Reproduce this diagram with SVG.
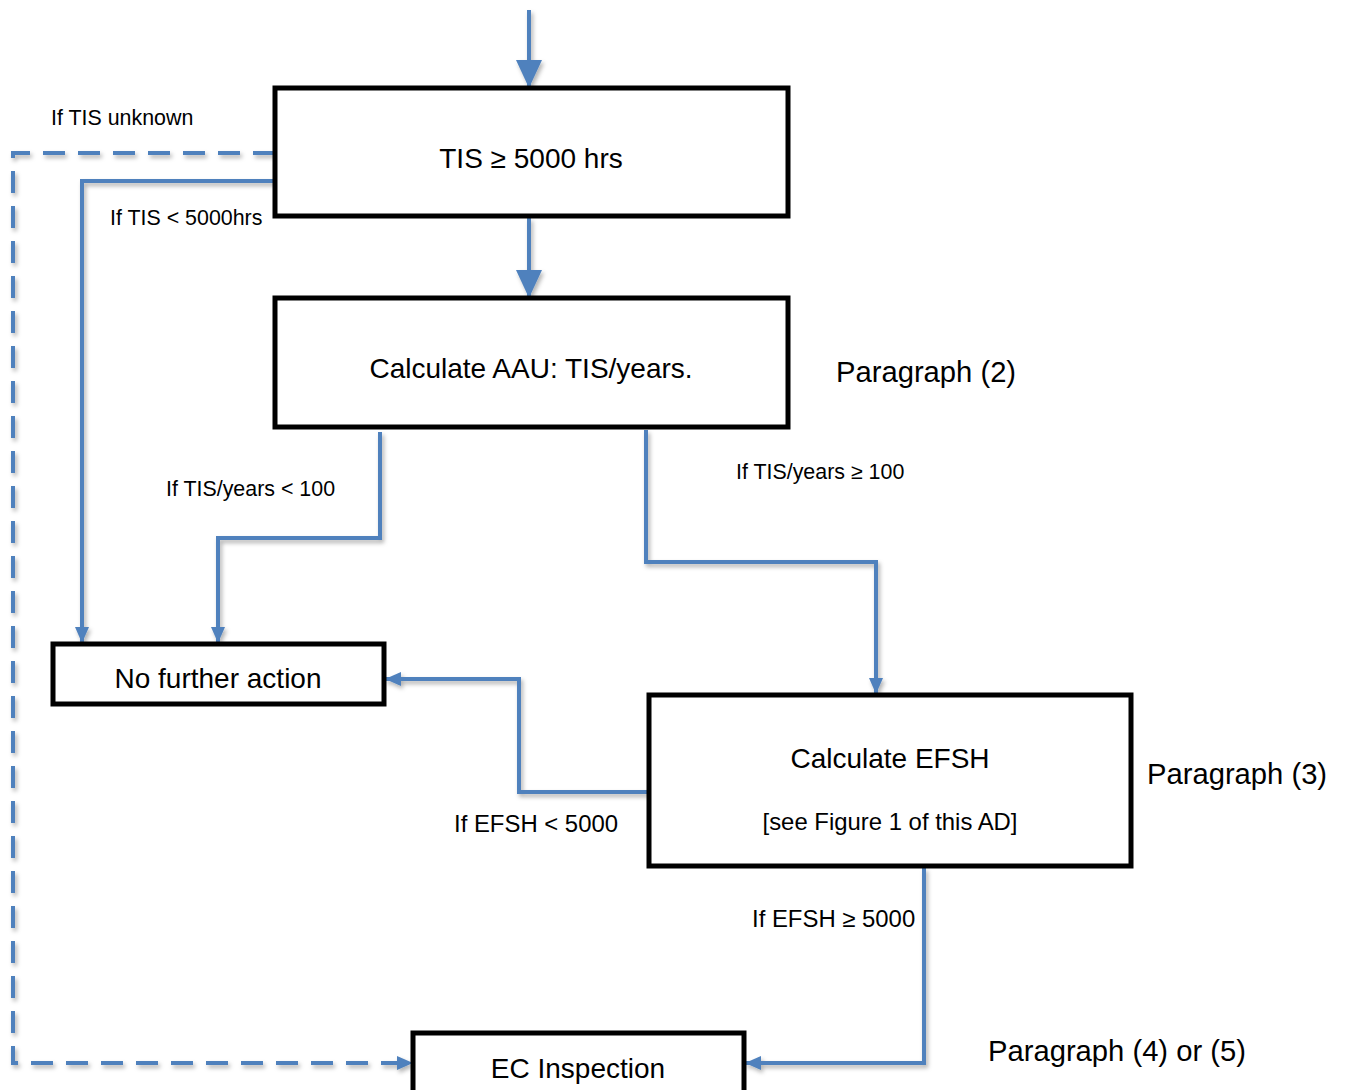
<svg xmlns="http://www.w3.org/2000/svg" width="1345" height="1090" viewBox="0 0 1345 1090">
<defs>
<style>
.box{fill:#fff;stroke:#000;stroke-width:5}
.c{fill:none;stroke:#4f81bd;stroke-width:4;filter:url(#sh)}
.d{stroke-dasharray:22 13}
text{font-family:"Liberation Sans",Arial,sans-serif;fill:#000}
.t{font-size:28px;text-anchor:middle}
.l{font-size:21.4px}
.m{font-size:23.9px}
.p{font-size:29.2px}
</style>
<filter id="sh" filterUnits="userSpaceOnUse" x="0" y="0" width="1345" height="1090">
<feDropShadow dx="2" dy="3" stdDeviation="2" flood-color="#000" flood-opacity="0.3"/>
</filter>
<marker id="big" markerUnits="userSpaceOnUse" markerWidth="28" markerHeight="28" viewBox="0 0 28 28" refX="28" refY="14" orient="auto">
<path d="M0,1 L28,14 L0,27 Z" fill="#4f81bd"/>
</marker>
<marker id="sm" markerUnits="userSpaceOnUse" markerWidth="16" markerHeight="16" viewBox="0 0 16 16" refX="16" refY="8" orient="auto">
<path d="M0,1 L16,8 L0,15 Z" fill="#4f81bd"/>
</marker>
</defs>
<rect width="1345" height="1090" fill="#fff"/>
<g id="connectors">
<path class="c" d="M529,10 V88" marker-end="url(#big)"/>
<path class="c" d="M529,218 V298" marker-end="url(#big)"/>
<path class="c d" d="M275,153 H13 V1063 H413" marker-end="url(#sm)"/>
<path class="c" d="M277,181 H82 V643" marker-end="url(#sm)"/>
<path class="c" d="M380,432 V538 H218 V643" marker-end="url(#sm)"/>
<path class="c" d="M646,430 V562 H876 V694" marker-end="url(#sm)"/>
<path class="c" d="M651,792 H519 V679 H385" marker-end="url(#sm)"/>
<path class="c" d="M924,868 V1063 H745" marker-end="url(#sm)"/>
</g>
<g id="n1"><rect class="box" x="275" y="88" width="513" height="128"/><text class="t" x="531" y="168">TIS ≥ 5000 hrs</text></g>
<g id="n2"><rect class="box" x="275" y="298" width="513" height="129"/><text class="t" x="531" y="378">Calculate AAU: TIS/years.</text></g>
<g id="n3"><rect class="box" x="53" y="644" width="331" height="60"/><text class="t" x="218" y="688">No further action</text></g>
<g id="n4"><rect class="box" x="649" y="695" width="482" height="171"/><text class="t" x="890" y="768">Calculate EFSH</text><text class="m" x="890" y="830" text-anchor="middle">[see Figure 1 of this AD]</text></g>
<g id="n5"><rect class="box" x="413" y="1033" width="331" height="70"/><text class="t" x="578" y="1078">EC Inspection</text></g>
<g id="labels">
<text class="l" x="51" y="125">If TIS unknown</text>
<text class="l" x="110" y="225">If TIS &lt; 5000hrs</text>
<text class="l" x="166" y="496">If TIS/years &lt; 100</text>
<text class="l" x="736" y="479">If TIS/years ≥ 100</text>
<text class="m" x="454" y="832">If EFSH &lt; 5000</text>
<text class="m" x="752" y="927">If EFSH ≥ 5000</text>
<text class="p" x="836" y="382">Paragraph (2)</text>
<text class="p" x="1147" y="784">Paragraph (3)</text>
<text class="p" x="988" y="1061">Paragraph (4) or (5)</text>
</g>
</svg>
